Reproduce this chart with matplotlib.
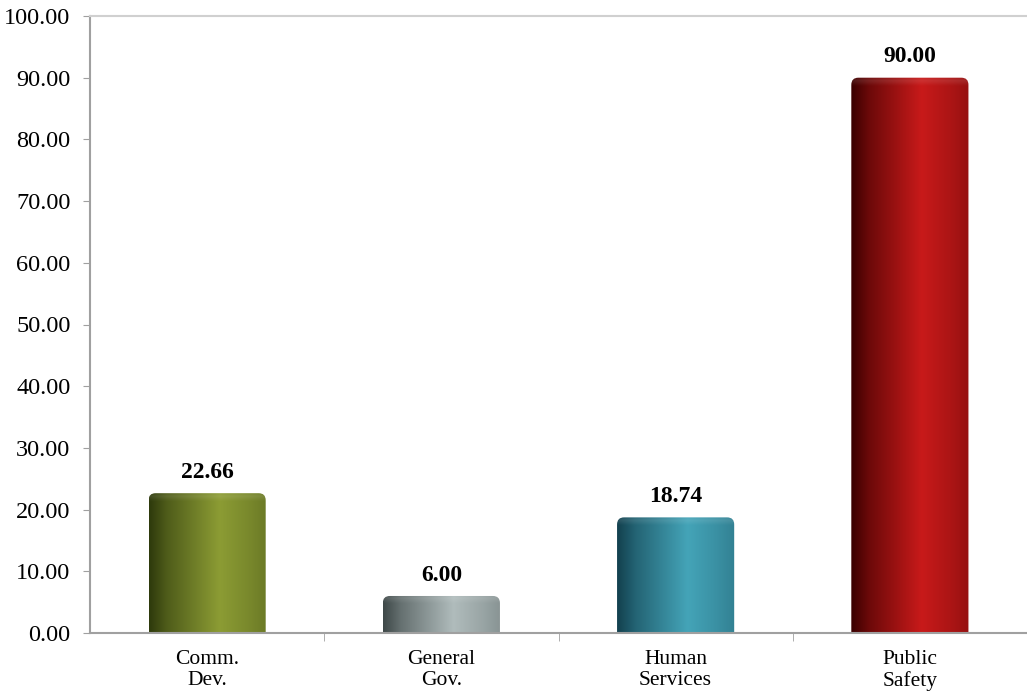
import matplotlib.pyplot as plt
import numpy as np
from matplotlib.patches import FancyBboxPatch
from matplotlib.colors import to_rgb

categories = ["Comm.\nDev.", "General\nGov.", "Human\nServices", "Public\nSafety"]
values = [22.66, 6.00, 18.74, 90.00]
# (dark edge, highlight) for each cylinder
dark_colors = ["#2e3a0c", "#3e4848", "#12404e", "#3a0000"]
light_colors = ["#8c9c34", "#b0bcbc", "#44a4b8", "#c81a1a"]

plt.rcParams['font.family'] = ['Liberation Serif', 'DejaVu Serif']

fig = plt.figure(figsize=(10.27, 7.0), dpi=100)
ax = fig.add_axes([90 / 1027, 1 - 633 / 700, 1 - 90 / 1027, (633 - 16) / 700])

x = np.arange(len(categories))
bar_w = 0.5
px_per_y = (633 - 16) / 100.0


def cylinder_image(dark, light, ny=400, nx=120):
    d = np.array(to_rgb(dark))
    l = np.array(to_rgb(light))
    t = np.linspace(0, 1, nx)
    # dark on the left, brightest around 60%, a bit darker on the right
    w = np.interp(t, [0, 0.15, 0.6, 0.85, 1.0], [0.0, 0.35, 1.0, 0.8, 0.65])
    row = d[None, :] * (1 - w[:, None]) + l[None, :] * w[:, None]
    return np.repeat(row[None, :, :], ny, axis=0)


for xi, val, dc, lc in zip(x, values, dark_colors, light_colors):
    left = xi - bar_w / 2
    patch = FancyBboxPatch((left, -3), bar_w, val + 3,
                           boxstyle="round,pad=0,rounding_size=0.03",
                           mutation_aspect=38,
                           facecolor="none", edgecolor="none")
    ax.add_patch(patch)
    img = cylinder_image(dc, lc)
    # faint highlight just under the top rim
    n = img.shape[0]
    ypix = np.linspace(0, 1, n) * (val * px_per_y)
    boost = np.clip(1 - np.abs(ypix - 3) / 5.0, 0, 1) * 0.1
    img = img + (1 - img) * boost[:, None, None]
    im = ax.imshow(img, extent=(left, left + bar_w, 0, val), origin='upper',
                   aspect='auto', interpolation='bilinear', zorder=2)
    im.set_clip_path(patch)
    ax.annotate(f"{val:.2f}", (xi, val), xytext=(0, 7.5), textcoords='offset points',
                ha='center', va='bottom', fontsize=17, fontweight='bold')

ax.set_xlim(-0.5, len(categories) - 0.5)
ax.set_ylim(0, 100)
ax.set_yticks(np.arange(0, 101, 10))
ax.set_yticklabels([f"{v:.2f}" for v in np.arange(0, 101, 10)])
ax.set_xticks(x)
ax.set_xticklabels(categories)
for lbl in ax.get_xticklabels():
    lbl.set_linespacing(1.15)
ax.set_xticks(np.arange(0.5, len(categories) - 0.5, 1), minor=True)
ax.tick_params(axis='x', which='major', length=0, pad=12, labelsize=15.5)
ax.tick_params(axis='x', which='minor', length=6, color='#a0a0a0')
ax.tick_params(axis='y', length=5, color='#a0a0a0', labelsize=17.5, pad=9)

for side in ['left', 'bottom']:
    ax.spines[side].set_color('#a0a0a0')
    ax.spines[side].set_linewidth(1.5)
ax.spines['top'].set_color('#d0d0d0')
ax.spines['top'].set_linewidth(1.5)
ax.spines['right'].set_visible(False)

fig.savefig("out.png", dpi=100)
